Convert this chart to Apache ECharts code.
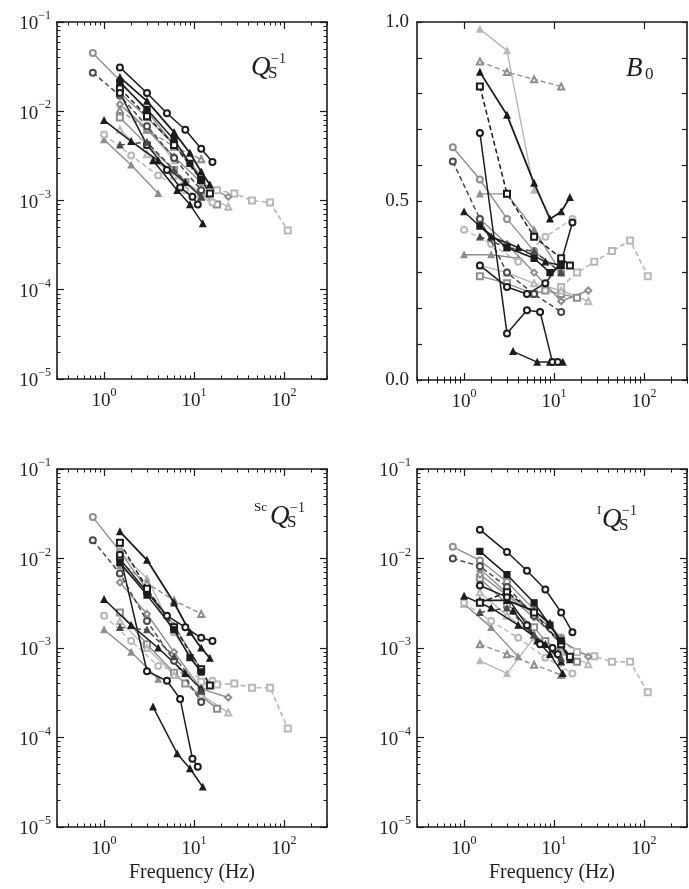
<!DOCTYPE html>
<html><head><meta charset="utf-8">
<script src="https://cdn.jsdelivr.net/npm/echarts@6/dist/echarts.min.js"></script>
<style>html,body{margin:0;padding:0;background:#fff}#c{width:689px;height:889px}</style>
</head><body><div id="c"></div><script>
// ---------- tick labels ----------
const xTickVals = [1, 10, 100];
const yLogTickVals = [1e-5, 1e-4, 1e-3, 1e-2, 1e-1];
const yB0TickVals = [0, 0.5, 1.0];
const xTitle = 'Frequency (Hz)';

// ---------- data: each study = frequencies + values in the 4 panels (Qs, B0, ScQs, IQs) ----------
const f01 = [0.75, 1.5, 3, 6, 12];
const qs01 = [0.045, 0.022, 0.010, 0.0042, 0.0018];
const b001 = [0.65, 0.56, 0.45, 0.36, 0.30];
const sc01 = [0.029, 0.012, 0.0045, 0.0015, 0.00054];
const qi01 = [0.0135, 0.0095, 0.0055, 0.0027, 0.0013];

const f02 = [0.75, 1.5, 3, 6, 12];
const qs02 = [0.027, 0.015, 0.0068, 0.003, 0.0013];
const b002 = [0.61, 0.45, 0.30, 0.24, 0.19];
const sc02 = [0.016, 0.0068, 0.002, 0.00072, 0.00025];
const qi02 = [0.010, 0.0082, 0.0048, 0.0023, 0.0011];

const f03 = [1.5, 3, 5, 8, 12, 16];
const qs03 = [0.031, 0.016, 0.0095, 0.0062, 0.0038, 0.0027];
const b003 = [0.32, 0.26, 0.24, 0.27, 0.33, 0.44];
const sc03 = [0.0099, 0.0042, 0.0023, 0.0017, 0.0013, 0.0012];
const qi03 = [0.021, 0.0118, 0.0073, 0.0045, 0.0025, 0.0015];

const f04 = [1.5, 3, 6, 9, 12, 15];
const qs04 = [0.024, 0.013, 0.0058, 0.0034, 0.0021, 0.0015];
const b004 = [0.86, 0.74, 0.55, 0.45, 0.47, 0.51];
const sc04 = [0.020, 0.0096, 0.0032, 0.0015, 0.001, 0.00077];
const qi04 = [0.0034, 0.0034, 0.0026, 0.0019, 0.0011, 0.00074];

const f05 = [1.5, 3, 6, 12, 15];
const qs05 = [0.018, 0.0088, 0.0042, 0.0017, 0.0012];
const b005 = [0.82, 0.52, 0.40, 0.34, 0.32];
const sc05 = [0.015, 0.0046, 0.0017, 0.00058, 0.00038];
const qi05 = [0.0032, 0.0042, 0.0025, 0.0011, 0.0008];

const f06 = [1.5, 3, 6];
const qs06 = [0.012, 0.0065, 0.0028];
const b006 = [0.98, 0.92, 0.53];
const sc06 = [0.0118, 0.006, 0.0015];
const qi06 = [0.00072, 0.00052, 0.0013];

const f07 = [1.5, 3, 6, 12];
const qs07 = [0.0103, 0.0062, 0.004, 0.0029];
const b007 = [0.89, 0.86, 0.84, 0.82];
const sc07 = [0.0092, 0.0053, 0.0034, 0.0024];
const qi07 = [0.0011, 0.00085, 0.00065, 0.0005];

const f08 = [12, 18, 28, 44, 70, 110];
const qs08 = [0.0016, 0.0013, 0.0012, 0.001, 0.00095, 0.00046];
const b008 = [0.26, 0.30, 0.33, 0.36, 0.39, 0.29];
const sc08 = [0.00042, 0.00039, 0.0004, 0.00036, 0.00036, 0.000126];
const qi08 = [0.0012, 0.0009, 0.00081, 0.0007, 0.0007, 0.00032];

const f09 = [1, 2, 4, 8, 12];
const qs09 = [0.0079, 0.0046, 0.0028, 0.0016, 0.0011];
const b009 = [0.47, 0.40, 0.37, 0.33, 0.32];
const sc09 = [0.0035, 0.0018, 0.001, 0.00052, 0.00035];
const qi09 = [0.0038, 0.0028, 0.0018, 0.0011, 0.0007];

const f10 = [1, 2, 4];
const qs10 = [0.0048, 0.0025, 0.0012];
const b010 = [0.35, 0.35, 0.34];
const sc10 = [0.0016, 0.0009, 0.00045];
const qi10 = [0.0031, 0.0017, 0.0008];

const f11 = [3.5, 6.5, 9, 12.5];
const qs11 = [0.0028, 0.0013, 0.0009, 0.00055];
const b011 = [0.08, 0.05, 0.05, 0.05];
const sc11 = [0.00022, 0.000066, 0.000045, 0.000028];
const qi11 = [0.0026, 0.0012, 0.00085, 0.00052];

const f12 = [1.5, 3, 5, 7, 9.6, 11];
const qs12 = [0.016, 0.0042, 0.0022, 0.0014, 0.0011, 0.0009];
const b012 = [0.69, 0.13, 0.195, 0.19, 0.05, 0.05];
const sc12 = [0.011, 0.00055, 0.00043, 0.00027, 0.000058, 0.000047];
const qi12 = [0.005, 0.0037, 0.0018, 0.0011, 0.001, 0.00085];

const f13 = [1.5, 3, 6, 8, 12, 18];
const qs13 = [0.0085, 0.0042, 0.0022, 0.0016, 0.0012, 0.0009];
const b013 = [0.29, 0.27, 0.24, 0.25, 0.24, 0.23];
const sc13 = [0.0025, 0.0011, 0.00053, 0.0004, 0.00029, 0.00021];
const qi13 = [0.006, 0.0031, 0.0017, 0.0012, 0.0009, 0.0007];

const f14 = [1.5, 3, 6, 12];
const qs14 = [0.016, 0.0085, 0.0042, 0.0019];
const b014 = [0.52, 0.52, 0.42, 0.30];
const sc14 = [0.0083, 0.0044, 0.0018, 0.00057];
const qi14 = [0.0077, 0.0041, 0.0024, 0.0013];

const f15 = [1.5, 3, 6, 12];
const qs15 = [0.0042, 0.0045, 0.0022, 0.0011];
const b015 = [0.40, 0.37, 0.36, 0.30];
const sc15 = [0.0017, 0.0016, 0.0008, 0.00033];
const qi15 = [0.0025, 0.0028, 0.0014, 0.00077];

const f16 = [1.5, 3, 6, 12, 24];
const qs16 = [0.0062, 0.0033, 0.0019, 0.0012, 0.00085];
const b016 = [0.32, 0.30, 0.27, 0.25, 0.22];
const sc16 = [0.002, 0.001, 0.0005, 0.0003, 0.00019];
const qi16 = [0.0042, 0.0023, 0.0014, 0.0009, 0.00066];

const f17 = [1.5, 3, 6, 12, 24];
const qs17 = [0.012, 0.0062, 0.0031, 0.0016, 0.0011];
const b017 = [0.45, 0.38, 0.30, 0.22, 0.25];
const sc17 = [0.0054, 0.0024, 0.0009, 0.00035, 0.00028];
const qi17 = [0.0066, 0.0039, 0.0022, 0.0012, 0.0008];

const f18 = [1.5, 3, 6, 9, 12];
const qs18 = [0.021, 0.0105, 0.0048, 0.0026, 0.0017];
const b018 = [0.43, 0.37, 0.34, 0.30, 0.32];
const sc18 = [0.009, 0.0039, 0.0016, 0.00078, 0.00054];
const qi18 = [0.012, 0.0066, 0.0032, 0.0018, 0.0012];

const f19 = [1, 2, 4, 8, 16];
const qs19 = [0.0055, 0.0032, 0.0019, 0.0013, 0.00095];
const b019 = [0.42, 0.38, 0.33, 0.40, 0.45];
const sc19 = [0.0023, 0.0012, 0.00063, 0.00052, 0.00043];
const qi19 = [0.0032, 0.002, 0.0013, 0.00078, 0.00052];

// ---------- styles (kept apart from data) ----------
const K = '#1c1c1c', D = '#4a4a4a', G = '#8e8e8e', L = '#b8b8b8';
const styles = [
  {c: G, dash: false, sym: 'emptyCircle'},
  {c: D, dash: true,  sym: 'emptyCircle'},
  {c: K, dash: false, sym: 'emptyCircle'},
  {c: K, dash: false, sym: 'triangle', w: 1.8},
  {c: K, dash: true,  sym: 'emptyRect'},
  {c: L, dash: false, sym: 'triangle'},
  {c: G, dash: true,  sym: 'emptyTriangle'},
  {c: L, dash: true,  sym: 'emptyRect', w: 1.6},
  {c: K, dash: false, sym: 'triangle'},
  {c: G, dash: false, sym: 'triangle'},
  {c: K, dash: false, sym: 'triangle'},
  {c: K, dash: false, sym: 'emptyCircle'},
  {c: G, dash: false, sym: 'emptyRect'},
  {c: G, dash: false, sym: 'triangle'},
  {c: D, dash: true,  sym: 'triangle'},
  {c: L, dash: false, sym: 'emptyTriangle'},
  {c: G, dash: false, sym: 'emptyDiamond'},
  {c: K, dash: false, sym: 'rect'},
  {c: L, dash: true,  sym: 'emptyCircle'}
];

const studies = [
  [f01, qs01, b001, sc01, qi01], [f02, qs02, b002, sc02, qi02], [f03, qs03, b003, sc03, qi03],
  [f04, qs04, b004, sc04, qi04], [f05, qs05, b005, sc05, qi05], [f06, qs06, b006, sc06, qi06],
  [f07, qs07, b007, sc07, qi07], [f08, qs08, b008, sc08, qi08], [f09, qs09, b009, sc09, qi09],
  [f10, qs10, b010, sc10, qi10], [f11, qs11, b011, sc11, qi11], [f12, qs12, b012, sc12, qi12],
  [f13, qs13, b013, sc13, qi13], [f14, qs14, b014, sc14, qi14], [f15, qs15, b015, sc15, qi15],
  [f16, qs16, b016, sc16, qi16], [f17, qs17, b017, sc17, qi17], [f18, qs18, b018, sc18, qi18],
  [f19, qs19, b019, sc19, qi19]
];

// ---------- layout ----------
const grids = [
  {left: 57, top: 22, width: 270, height: 357},
  {left: 417, top: 22, width: 270, height: 358},
  {left: 57, top: 469, width: 270, height: 358},
  {left: 417, top: 469, width: 270, height: 358}
];
const FONT = '"Liberation Serif", "DejaVu Serif", serif';
const AXC = '#1a1a1a';

function minorLog(lo, hi) {
  const out = [];
  for (let e = Math.floor(Math.log10(lo)); e <= Math.ceil(Math.log10(hi)); e++) {
    for (let m = 2; m <= 9; m++) {
      const v = m * Math.pow(10, e);
      if (v >= lo * 0.999 && v <= hi * 1.001) out.push(+v.toPrecision(3));
    }
  }
  return out;
}
const xMinor = minorLog(0.3, 300);
const yMinor = minorLog(1e-5, 1e-1);

function expLabel(v) {
  const e = Math.round(Math.log10(v));
  return '{b|10}{e|' + (e < 0 ? '\u2212' + (-e) : e) + '}';
}
const rich = {
  b: {fontFamily: FONT, fontSize: 19, color: '#222', lineHeight: 24, verticalAlign: 'bottom'},
  e: {fontFamily: FONT, fontSize: 12, color: '#222', lineHeight: 14, verticalAlign: 'top'}
};

const xAxis = [], yAxis = [];
grids.forEach((g, i) => {
  const base = {type: 'log', gridIndex: i, min: 0.3, max: 300, logBase: 10, splitLine: {show: false}, minorTick: {show: false}};
  const line = {show: true, onZero: false, lineStyle: {color: AXC, width: 1.6}};
  xAxis.push(Object.assign({}, base, {position: 'bottom', axisLine: line,
    axisTick: {show: true, inside: true, length: 7, customValues: xTickVals, lineStyle: {color: AXC, width: 1.2}},
    axisLabel: {show: true, customValues: xTickVals, margin: 8, formatter: expLabel, rich: rich}}));
  xAxis.push(Object.assign({}, base, {position: 'bottom', axisLine: {show: false},
    axisTick: {show: true, inside: true, length: 3.5, customValues: xMinor, lineStyle: {color: AXC, width: 1}},
    axisLabel: {show: false}}));
  xAxis.push(Object.assign({}, base, {position: 'top', axisLine: line,
    axisTick: {show: true, inside: true, length: 7, customValues: xTickVals, lineStyle: {color: AXC, width: 1.2}},
    axisLabel: {show: false}}));
  xAxis.push(Object.assign({}, base, {position: 'top', axisLine: {show: false},
    axisTick: {show: true, inside: true, length: 3.5, customValues: xMinor, lineStyle: {color: AXC, width: 1}},
    axisLabel: {show: false}}));

  if (i === 1) {
    const yb = {type: 'value', gridIndex: i, min: 0, max: 1, interval: 0.1, splitLine: {show: false}};
    yAxis.push(Object.assign({}, yb, {position: 'left', axisLine: line,
      axisTick: {show: true, inside: true, length: 5, lineStyle: {color: AXC, width: 1.2}},
      axisLabel: {show: true, customValues: yB0TickVals, margin: 8, fontFamily: FONT, fontSize: 19, color: '#222',
        formatter: v => v.toFixed(1)}}));
    yAxis.push(Object.assign({}, yb, {position: 'left', axisLine: {show: false}, axisTick: {show: false}, axisLabel: {show: false}}));
    yAxis.push(Object.assign({}, yb, {position: 'right', axisLine: line,
      axisTick: {show: true, inside: true, length: 5, lineStyle: {color: AXC, width: 1.2}}, axisLabel: {show: false}}));
    yAxis.push(Object.assign({}, yb, {position: 'right', axisLine: {show: false}, axisTick: {show: false}, axisLabel: {show: false}}));
  } else {
    const yb = {type: 'log', gridIndex: i, min: 1e-5, max: 1e-1, logBase: 10, splitLine: {show: false}, minorTick: {show: false}};
    yAxis.push(Object.assign({}, yb, {position: 'left', axisLine: line,
      axisTick: {show: true, inside: true, length: 7, customValues: yLogTickVals, lineStyle: {color: AXC, width: 1.2}},
      axisLabel: {show: true, customValues: yLogTickVals, margin: 6, formatter: expLabel, rich: rich}}));
    yAxis.push(Object.assign({}, yb, {position: 'left', axisLine: {show: false},
      axisTick: {show: true, inside: true, length: 3.5, customValues: yMinor, lineStyle: {color: AXC, width: 1}},
      axisLabel: {show: false}}));
    yAxis.push(Object.assign({}, yb, {position: 'right', axisLine: line,
      axisTick: {show: true, inside: true, length: 7, customValues: yLogTickVals, lineStyle: {color: AXC, width: 1.2}},
      axisLabel: {show: false}}));
    yAxis.push(Object.assign({}, yb, {position: 'right', axisLine: {show: false},
      axisTick: {show: true, inside: true, length: 3.5, customValues: yMinor, lineStyle: {color: AXC, width: 1}},
      axisLabel: {show: false}}));
  }
});

const series = [];
for (let p = 0; p < 4; p++) {
  studies.forEach((s, k) => {
    const st = styles[k];
    const f = s[0], vals = s[p + 1];
    const isLight = (st.c === L || st.c === G);
    series.push({
      type: 'line', xAxisIndex: 4 * p, yAxisIndex: 4 * p,
      data: f.map((x, j) => [x, vals[j]]),
      symbol: st.sym, symbolSize: 6, showSymbol: true,
      z: isLight ? 2 : 3,
      lineStyle: {color: st.c, width: st.w || (isLight ? 1.4 : 1.5), type: st.dash ? [5, 3] : 'solid'},
      itemStyle: {color: st.c, borderColor: st.c, borderWidth: 1.2},
      emphasis: {disabled: true},
      animation: false
    });
  });
}

function t(x, y, text, font, align, va) {
  return {type: 'text', x: x, y: y, z: 100, style: {text: text, font: font, fill: '#1e1e1e', textAlign: align || 'left', textVerticalAlign: va || 'middle'}};
}
const QF = 'italic 27px "Liberation Serif"';
const SF = '17px "Liberation Serif"';
const EF = '14px "Liberation Serif"';
const graphic = [
  // panel 1
  t(251, 68, 'Q', QF), t(268, 74, 'S', SF), t(271, 59, '\u22121', EF),
  // panel 2
  t(626, 69, 'B', QF), t(645, 75, '0', SF),
  // panel 3
  t(254, 508, 'Sc', '13px "Liberation Serif"'), t(270, 517, 'Q', QF), t(287, 523, 'S', SF), t(290, 508, '\u22121', EF),
  // panel 4
  t(597, 511, 'I', '13px "Liberation Serif"'), t(602, 520, 'Q', QF), t(619, 526, 'S', SF), t(622, 511, '\u22121', EF),
  // axis titles
  t(192, 873, xTitle, '20px "Liberation Serif"', 'center'),
  t(552, 873, xTitle, '20px "Liberation Serif"', 'center')
];

const chart = echarts.init(document.getElementById('c'), null, {renderer: 'canvas'});
chart.setOption({
  backgroundColor: '#ffffff',
  animation: false,
  grid: grids,
  xAxis: xAxis,
  yAxis: yAxis,
  series: series,
  graphic: graphic
});
</script></body></html>
